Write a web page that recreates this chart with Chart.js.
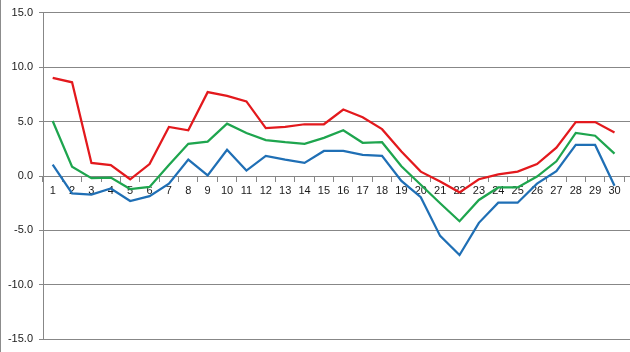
<!DOCTYPE html>
<html>
<head>
<meta charset="utf-8">
<script src="https://cdn.jsdelivr.net/npm/chart.js@4.4.1/dist/chart.umd.min.js"></script>
<style>
  html, body { margin: 0; padding: 0; background: #fff; }
  #wrap { position: relative; width: 630px; height: 352px; }
  #edge { position: absolute; left: 0; top: 0; bottom: 0; width: 1px; background: #8c8c8c; }
</style>
</head>
<body>
<div id="wrap">
  <canvas id="chart"></canvas>
  <div id="edge"></div>
</div>
<script>
// day of month
const days = [1, 2, 3, 4, 5, 6, 7, 8, 9, 10, 11, 12, 13, 14, 15,
              16, 17, 18, 19, 20, 21, 22, 23, 24, 25, 26, 27, 28, 29, 30];

// daily max / mean / min
const maxTemp = [9.0, 8.6, 1.2, 1.0, -0.3, 1.1, 4.5, 4.2, 7.7, 7.35,
                 6.85, 4.4, 4.5, 4.75, 4.75, 6.1, 5.4, 4.3, 2.25, 0.4,
                 -0.5, -1.5, -0.3, 0.15, 0.4, 1.1, 2.6, 4.95, 4.95, 4.0];
const meanTemp = [5.05, 0.85, -0.2, -0.15, -1.2, -1.0, 1.0, 2.95, 3.15, 4.8,
                  3.95, 3.3, 3.1, 2.95, 3.5, 4.2, 3.05, 3.1, 0.9, -0.8,
                  -2.5, -4.15, -2.2, -1.05, -1.05, -0.05, 1.35, 3.95, 3.7, 2.05];
const minTemp = [1.05, -1.6, -1.7, -1.15, -2.3, -1.85, -0.7, 1.5, 0.05, 2.4,
                 0.5, 1.85, 1.5, 1.2, 2.3, 2.3, 1.95, 1.85, -0.45, -1.95,
                 -5.5, -7.25, -4.3, -2.45, -2.45, -0.7, 0.45, 2.85, 2.85, -0.9];

const yTicks = [-15, -10, -5, 0, 5, 10, 15];

const gridGray = '#878787';
const textColor = '#1a1a1a';

function series(data, color) {
    return {
        data: data,
        borderColor: color,
        backgroundColor: color,
        borderWidth: 2.25,
        pointRadius: 0,
        tension: 0,
        fill: false
    };
}

new Chart(document.getElementById('chart').getContext('2d'), {
    type: 'line',
    data: {
        labels: days,
        datasets: [
            series(maxTemp, '#e3191d'),
            series(meanTemp, '#1ea54e'),
            series(minTemp, '#1f6fb5')
        ]
    },
    options: {
        responsive: true,
        maintainAspectRatio: false,
        animation: false,
        devicePixelRatio: 1,
        layout: { padding: { top: 12, bottom: 12, left: 0, right: 0 } },
        plugins: { legend: { display: false }, tooltip: { enabled: false } },
        scales: {
            x: {
                type: 'linear',
                position: { y: 0 },
                min: 0.5,
                max: 30.8,
                grid: {
                    offset: true,
                    drawOnChartArea: false,
                    drawTicks: true,
                    tickLength: 5,
                    color: gridGray
                },
                border: { display: true, color: gridGray, width: 1 },
                ticks: {
                    stepSize: 1,
                    includeBounds: false,
                    autoSkip: false,
                    maxRotation: 0,
                    padding: 3,
                    color: textColor,
                    font: { family: 'Liberation Sans', size: 11 },
                    callback: v => String(v)
                }
            },
            y: {
                position: 'left',
                min: yTicks[0],
                max: yTicks[yTicks.length - 1],
                afterFit: s => { s.width = 43; },
                afterBuildTicks: s => { s.ticks = yTicks.map(v => ({ value: v })); },
                grid: {
                    color: gridGray,
                    tickLength: 4,
                    lineWidth: 1
                },
                border: { display: true, color: gridGray, width: 1 },
                ticks: {
                    padding: 6,
                    color: textColor,
                    font: { family: 'Liberation Sans', size: 11 },
                    callback: v => Number(v).toFixed(1)
                }
            }
        }
    }
});
</script>
</body>
</html>
